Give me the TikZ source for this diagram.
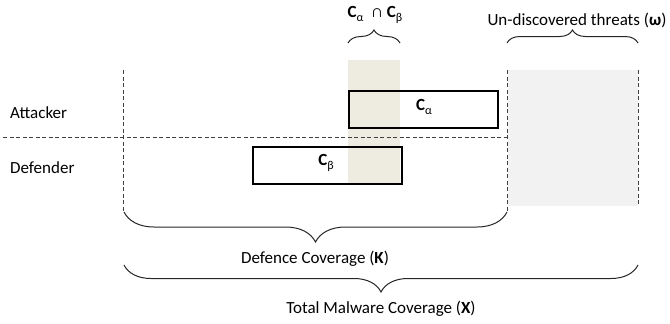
\documentclass[tikz,border=0pt]{standalone}
\usepackage{fontspec}
\setmainfont{Carlito}
\usetikzlibrary{decorations.pathreplacing}
\definecolor{tanbg}{RGB}{238,236,225}
\definecolor{greybg}{RGB}{242,242,242}
\definecolor{dashgrey}{RGB}{64,64,64}
\newcommand{\subsym}[1]{\raisebox{-4pt}{\fontsize{12}{13}\selectfont #1}}
\begin{document}
\begin{tikzpicture}[x=1pt,y=-1pt,
  font=\fontsize{17}{20}\selectfont,
  dline/.style={dashgrey, line width=0.9pt, dash pattern=on 4pt off 2.5pt},
  cbox/.style={draw=black, line width=2.2pt, inner sep=0pt, anchor=north west},
  lbl/.style={inner sep=0pt, anchor=base},
  bracestyle/.style={draw=black!85, line width=1pt, decorate},
]
\useasboundingbox (0,0) rectangle (670,324);
% background regions
\fill[greybg] (508,70) rectangle (638,206);
\fill[tanbg] (348,60) rectangle (400,183);
% dashed guide lines
\coordinate (hl) at (3,137);
\coordinate (hr) at (508,137);
\coordinate (v1t) at (123,70);
\coordinate (v1b) at (123,212);
\coordinate (v2t) at (507.5,70);
\coordinate (v2b) at (507.5,212);
\coordinate (v3t) at (638,70);
\coordinate (v3b) at (638,206);
\draw[dline] (hl) -- (hr);
\draw[dline] (v1t) -- (v1b);
\draw[dline] (v2t) -- (v2b);
\draw[dline] (v3t) -- (v3b);
% boxes
\node[cbox, minimum width=149pt, minimum height=37pt] (ca) at (348,90) {};
\node[cbox, minimum width=149pt, minimum height=37pt] (cb) at (252,146) {};
\node[lbl] (calbl) at (424,110) {\textbf{C}\subsym{α}};
\node[lbl] (cblbl) at (326,165) {\textbf{C}\subsym{β}};
% row labels
\node[lbl, anchor=base west] (att) at (10,118) {Attacker};
\node[lbl, anchor=base west] (def) at (10,173) {Defender};
% top labels and braces
\node[lbl] (inter) at (375,17) {\textbf{C}\subsym{α}\ \ ∩\ \textbf{C}\subsym{β}};
\node[lbl] (undisc) at (577,25) {Un-discovered threats (\textbf{ω})};
\coordinate (b1l) at (348,43);
\coordinate (b1r) at (400,43);
\coordinate (b2l) at (507,43);
\coordinate (b2r) at (638,43);
\draw[bracestyle, decoration={brace, amplitude=13pt}] (b1l) -- (b1r);
\draw[bracestyle, decoration={brace, amplitude=13pt}] (b2l) -- (b2r);
% bottom braces
\coordinate (b3l) at (124,212);
\coordinate (b3r) at (507,212);
\coordinate (b4l) at (124,265);
\coordinate (b4r) at (638,265);
\draw[bracestyle, decoration={brace, amplitude=30pt}] (b3r) -- (b3l);
\draw[bracestyle, decoration={brace, amplitude=27pt}] (b4r) -- (b4l);
\node[lbl] (kcov) at (315,263) {Defence Coverage (\textbf{K})};
\node[lbl] (xcov) at (381,313) {Total Malware Coverage (\textbf{X})};
\end{tikzpicture}
\end{document}
